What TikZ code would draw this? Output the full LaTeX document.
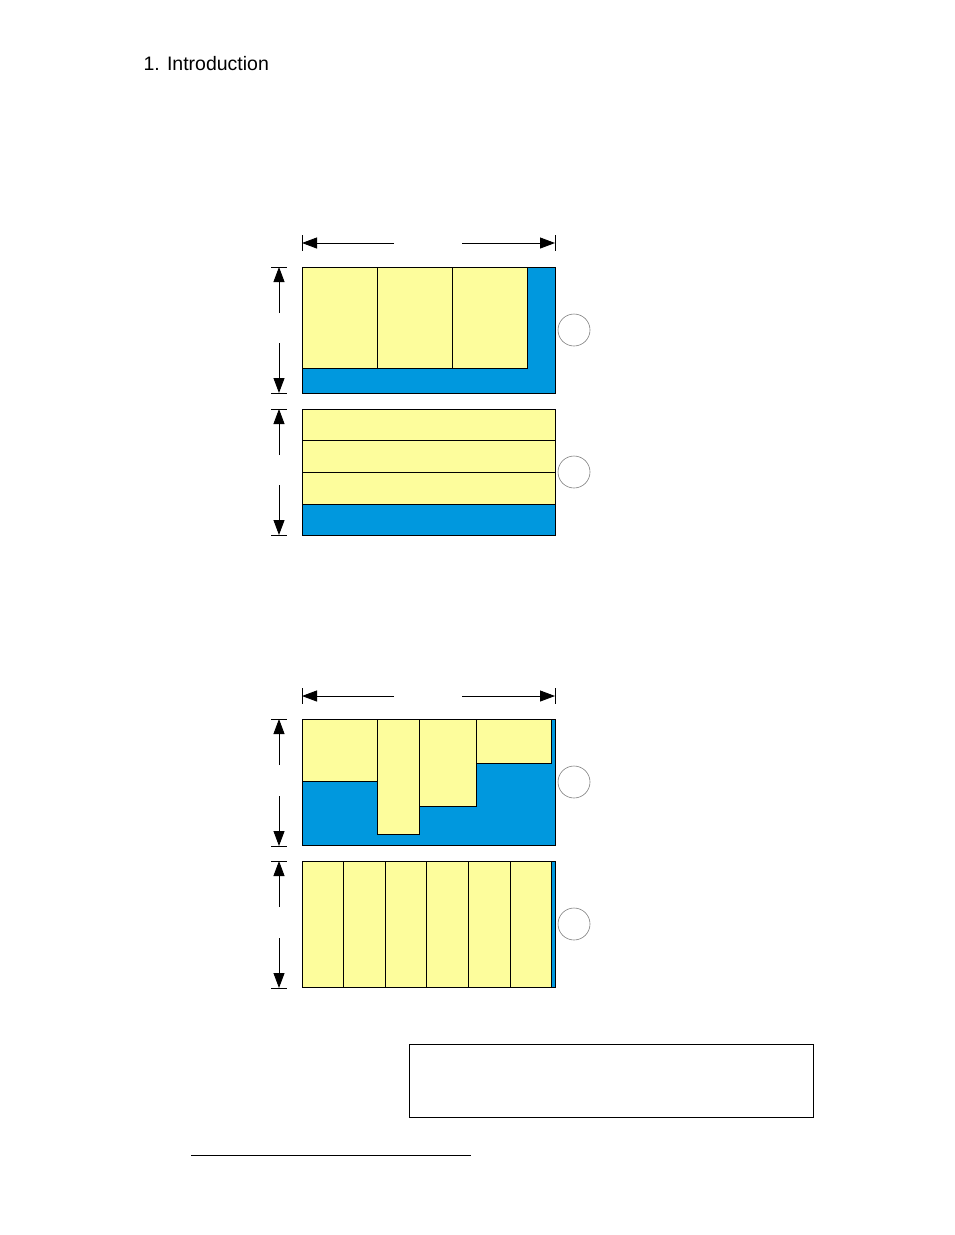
\documentclass[tikz,border=0pt]{standalone}
\usepackage{fontspec}
\setmainfont{Liberation Sans}
\usepackage{tikz}
\usetikzlibrary{arrows.meta}

\definecolor{cellyellow}{HTML}{FDFD9C}
\definecolor{fillblue}{HTML}{0098DE}

\begin{document}
\begin{tikzpicture}[
    x=1pt, y=-1pt,
    frame/.style={rectangle, draw, fill=fillblue, line width=0.9pt, anchor=north west,
      inner sep=0pt, minimum width=253pt, minimum height=126pt},
    cell/.style={draw, fill=cellyellow, line width=0.9pt},
    dimarrow/.style={-{Triangle[length=15pt, width=11pt]}, line width=0.9pt},
    dimtick/.style={line width=0.9pt},
    marker/.style={circle, draw=gray, line width=0.6pt, minimum size=32pt, inner sep=0pt}
  ]
  \useasboundingbox (0,0) rectangle (954,1235);

  \node[anchor=base west, font=\fontsize{19.5}{24}\selectfont] (title) at (140,70) {1. Introduction};

  % first pair of frames
  \node[frame] (fa) at (302,267) {};
  \node[frame] (fb) at (302,409) {};
  \foreach \i in {0,1,2}
    \draw[cell] (302+75*\i,267) rectangle (377+75*\i,368);
  \foreach \i in {0,1,2}
    \draw[cell] (302,409+31.7*\i) rectangle (555,440.7+31.7*\i);
  \node[marker] (ca) at (574,330) {};
  \node[marker] (cb) at (574,472) {};

  % second pair of frames
  \node[frame] (fc) at (302,719) {};
  \node[frame] (fd) at (302,861) {};
  \draw[cell] (302,719) rectangle (377,781);
  \draw[cell] (377,719) rectangle (419,834);
  \draw[cell] (419,719) rectangle (476.5,806);
  \draw[cell] (476.5,719) rectangle (551.5,763);
  \foreach \i in {0,...,5}
    \draw[cell] (302+41.6*\i,861) rectangle (343.6+41.6*\i,987);
  \node[marker] (cc) at (574,782) {};
  \node[marker] (cd) at (574,924) {};

  % widths
  \foreach \y in {243,696} {
    \draw[dimtick] (302,\y-8) -- (302,\y+8);
    \draw[dimtick] (555,\y-8) -- (555,\y+8);
    \draw[dimarrow] (394,\y) -- (302,\y);
    \draw[dimarrow] (462,\y) -- (555,\y);
  }

  % heights
  \foreach \t/\b in {267/393,409/535,719/846,861/988} {
    \draw[dimtick] (271,\t) -- (287,\t);
    \draw[dimtick] (271,\b) -- (287,\b);
    \draw[dimarrow] (279,\t+46) -- (279,\t);
    \draw[dimarrow] (279,\b-50) -- (279,\b);
  }

  % caption box and footnote rule
  \node[draw, line width=1.2pt, anchor=north west, inner sep=0pt,
    minimum width=404pt, minimum height=73pt] (caption) at (409,1044) {};
  \draw[line width=0.9pt] (191,1155) -- (471,1155);
\end{tikzpicture}
\end{document}
